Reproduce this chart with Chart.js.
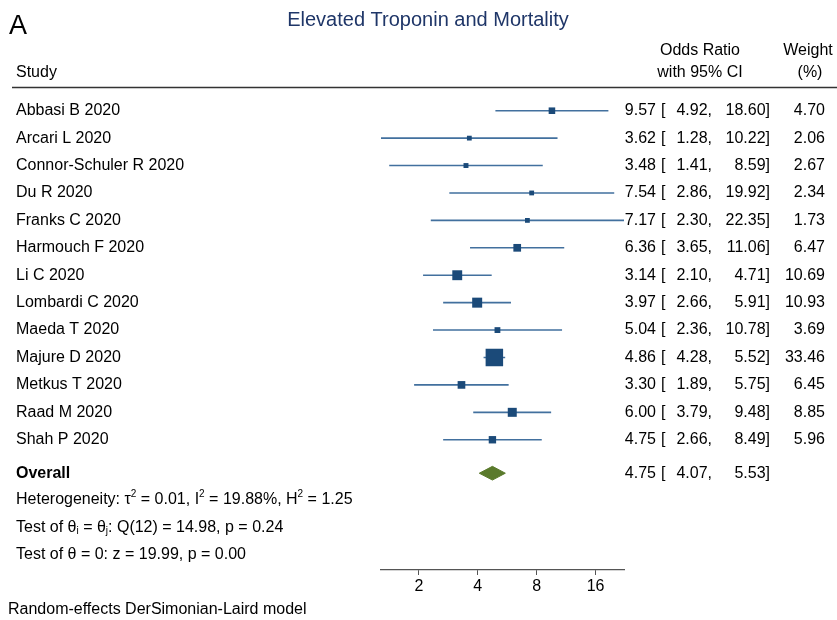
<!DOCTYPE html>
<html>
<head>
<meta charset="utf-8">
<script src="https://cdn.jsdelivr.net/npm/chart.js@4"></script>
<style>
  html, body { margin: 0; padding: 0; background: #fff; }
  #wrap { width: 837px; height: 620px; }
</style>
</head>
<body>
<div id="wrap"><canvas id="forest" width="837" height="620"></canvas></div>
<script>
// study rows
var studies = ['Abbasi B 2020', 'Arcari L 2020', 'Connor-Schuler R 2020', 'Du R 2020', 'Franks C 2020',
  'Harmouch F 2020', 'Li C 2020', 'Lombardi C 2020', 'Maeda T 2020', 'Majure D 2020',
  'Metkus T 2020', 'Raad M 2020', 'Shah P 2020'];
var oddsRatio = [9.57, 3.62, 3.48, 7.54, 7.17, 6.36, 3.14, 3.97, 5.04, 4.86, 3.30, 6.00, 4.75];
var ciLow     = [4.92, 1.28, 1.41, 2.86, 2.30, 3.65, 2.10, 2.66, 2.36, 4.28, 1.89, 3.79, 2.66];
var ciHigh    = [18.60, 10.22, 8.59, 19.92, 22.35, 11.06, 4.71, 5.91, 10.78, 5.52, 5.75, 9.48, 8.49];
var weights   = [4.70, 2.06, 2.67, 2.34, 1.73, 6.47, 10.69, 10.93, 3.69, 33.46, 6.45, 8.85, 5.96];

// pooled estimate
var overall = [4.75, 4.07, 5.53];   // OR, low, high

// heterogeneity / tests
var tau2 = '0.01', i2 = '19.88', h2 = '1.25';
var qDf = 12, qStat = '14.98', qP = '0.24';
var zStat = '19.99', zP = '0.00';

var xTicks = [2, 4, 8, 16];

// row positions on the y scale
var rowOverall = 13.22;
var rowStats = [14.2, 15.2, 16.2];
var diamondHalf = 0.25;

var FONT = "'Liberation Sans', Arial, Helvetica, sans-serif";
var FS = 16;
var boxColor = '#1b4a79';
var lineColor = '#42709e';

// CI segments, broken by gaps
var ciPoints = [];
for (var i = 0; i < studies.length; i++) {
  ciPoints.push({ x: ciLow[i], y: i });
  ciPoints.push({ x: ciHigh[i], y: i });
  ciPoints.push({ x: ciHigh[i], y: null });
}

// box side proportional to sqrt(weight)
var maxW = Math.max.apply(null, weights);
var boxRadius = weights.map(function(w) {
  var side = Math.max(4.8, 17.5 * Math.sqrt(w / maxW));
  return side / Math.SQRT2;
});

var diamond = [
  { x: overall[1], y: rowOverall },
  { x: overall[0], y: rowOverall - diamondHalf },
  { x: overall[2], y: rowOverall },
  { x: overall[0], y: rowOverall + diamondHalf },
  { x: overall[1], y: rowOverall }
];

function richText(ctx, parts, x, y, size) {
  var cx = x;
  parts.forEach(function(p) {
    var t = p[0], kind = p[1] || 'n';
    if (kind === 'n') {
      ctx.font = size + 'px ' + FONT;
      ctx.fillText(t, cx, y);
    } else if (kind === 'sup') {
      ctx.font = Math.round(size * 0.62) + 'px ' + FONT;
      ctx.fillText(t, cx, y - size * 0.36);
    } else {
      ctx.font = Math.round(size * 0.62) + 'px ' + FONT;
      ctx.fillText(t, cx, y + size * 0.25);
    }
    cx += ctx.measureText(t).width;
  });
}

var textPlugin = {
  id: 'forestText',
  afterDraw: function(chart) {
    var ctx = chart.ctx;
    var ys = chart.scales.y;
    ctx.save();
    ctx.fillStyle = '#000';
    ctx.textBaseline = 'middle';

    // panel letter + title
    ctx.font = '27px ' + FONT;
    ctx.textAlign = 'left';
    ctx.fillText('A', 9, 27);
    ctx.font = '20px ' + FONT;
    ctx.fillStyle = '#1f3668';
    ctx.textAlign = 'center';
    ctx.fillText('Elevated Troponin and Mortality', 428, 20);

    // headers
    ctx.fillStyle = '#000';
    ctx.font = FS + 'px ' + FONT;
    ctx.textAlign = 'left';
    ctx.fillText('Study', 16, 73);
    ctx.textAlign = 'center';
    ctx.fillText('Odds Ratio', 700, 51);
    ctx.fillText('with 95% CI', 700, 73);
    ctx.fillText('Weight', 808, 51);
    ctx.fillText('(%)', 810, 73);

    ctx.strokeStyle = '#333';
    ctx.lineWidth = 1.5;
    ctx.beginPath();
    ctx.moveTo(12, 87.5);
    ctx.lineTo(837, 87.5);
    ctx.stroke();

    function ciRow(y, v, lo, hi) {
      ctx.textAlign = 'right';
      ctx.fillText(v.toFixed(2), 656, y);
      ctx.textAlign = 'left';
      ctx.fillText('[', 661, y);
      ctx.textAlign = 'right';
      ctx.fillText(lo.toFixed(2) + ',', 712, y);
      ctx.fillText(hi.toFixed(2) + ']', 770, y);
    }

    ctx.font = FS + 'px ' + FONT;
    studies.forEach(function(s, i) {
      var y = ys.getPixelForValue(i);
      ctx.textAlign = 'left';
      ctx.fillText(s, 16, y);
      ciRow(y, oddsRatio[i], ciLow[i], ciHigh[i]);
      ctx.textAlign = 'right';
      ctx.fillText(weights[i].toFixed(2), 825, y);
    });

    var yo = ys.getPixelForValue(rowOverall);
    ctx.font = 'bold ' + FS + 'px ' + FONT;
    ctx.textAlign = 'left';
    ctx.fillText('Overall', 16, yo);
    ctx.font = FS + 'px ' + FONT;
    ciRow(yo, overall[0], overall[1], overall[2]);

    ctx.textAlign = 'left';
    richText(ctx, [['Heterogeneity: \u03C4'], ['2', 'sup'], [' = ' + tau2 + ', I'], ['2', 'sup'],
      [' = ' + i2 + '%, H'], ['2', 'sup'], [' = ' + h2]], 16, ys.getPixelForValue(rowStats[0]), FS);
    richText(ctx, [['Test of \u03B8'], ['i', 'sub'], [' = \u03B8'], ['j', 'sub'],
      [': Q(' + qDf + ') = ' + qStat + ', p = ' + qP]], 16, ys.getPixelForValue(rowStats[1]), FS);
    richText(ctx, [['Test of \u03B8 = 0: z = ' + zStat + ', p = ' + zP]], 16, ys.getPixelForValue(rowStats[2]), FS);

    ctx.font = FS + 'px ' + FONT;
    ctx.fillText('Random-effects DerSimonian-Laird model', 8, 610);
    ctx.restore();
  }
};

new Chart(document.getElementById('forest'), {
  type: 'scatter',
  data: {
    datasets: [
      {
        label: 'OR',
        data: oddsRatio.map(function(v, i) { return { x: v, y: i }; }),
        pointStyle: 'rect',
        pointRadius: boxRadius,
        backgroundColor: boxColor,
        borderColor: boxColor,
        borderWidth: 0
      },
      {
        label: 'CI',
        data: ciPoints,
        showLine: true,
        spanGaps: false,
        pointRadius: 0,
        borderColor: lineColor,
        borderWidth: 1.6
      },
      {
        label: 'Overall',
        data: diamond,
        showLine: true,
        fill: 'shape',
        pointRadius: 0,
        borderColor: '#5a7a2c',
        backgroundColor: '#5a7a2c',
        borderWidth: 1
      }
    ]
  },
  options: {
    responsive: false,
    animation: false,
    layout: { padding: { left: 381, right: 213, top: 88, bottom: 0 } },
    plugins: {
      legend: { display: false },
      tooltip: { enabled: false }
    },
    scales: {
      x: {
        type: 'logarithmic',
        min: 1.28,
        max: 22.35,
        afterBuildTicks: function(scale) {
          scale.ticks = xTicks.map(function(v) { return { value: v }; });
        },
        afterFit: function(scale) { scale.height = 50; },
        grid: { drawOnChartArea: false, drawTicks: true, tickLength: 5, color: '#555' },
        border: { display: true, color: '#555', width: 1.2 },
        ticks: {
          padding: 2,
          color: '#000',
          font: { family: FONT, size: 16 },
          callback: function(v) { return String(v); }
        }
      },
      y: {
        type: 'linear',
        display: false,
        reverse: true,
        min: -0.828,
        max: 16.75
      }
    }
  },
  plugins: [textPlugin]
});
</script>
</body>
</html>
